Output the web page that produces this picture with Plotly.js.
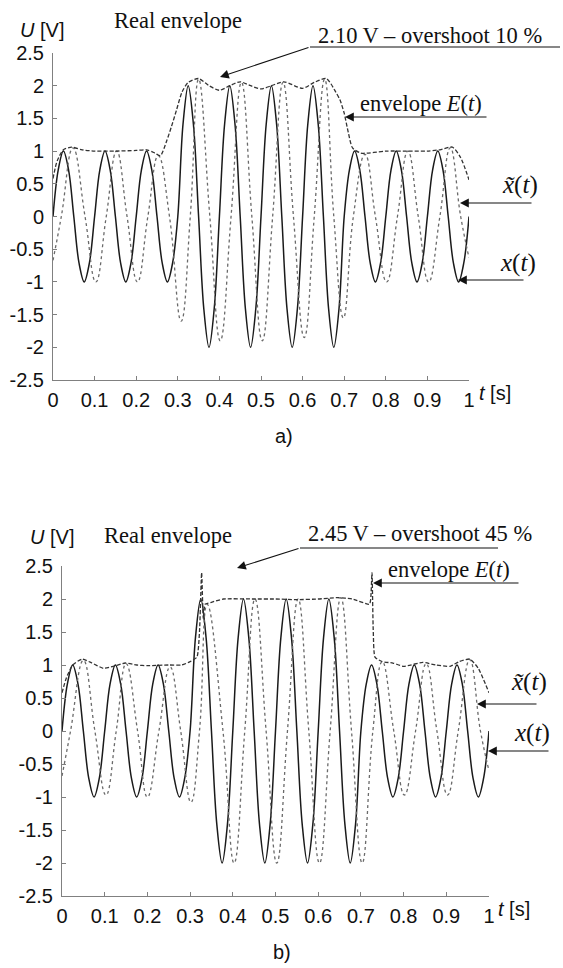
<!DOCTYPE html>
<html>
<head>
<meta charset="utf-8">
<script src="https://cdn.plot.ly/plotly-3.0.1.min.js"></script>
<style>html,body{margin:0;padding:0;background:#fff;}#chart{width:563px;height:968px;}</style>
</head>
<body>
<div id="chart"></div>
<script>
// ---- data ----
// x(t): sampled every 0.0125 s (x0 = 0, dx = 0.0125)
var xSignal = [0,0.71,1,0.71,0,-0.71,-1,-0.71, 0,0.71,1,0.71,0,-0.71,-1,-0.71, 0,0.71,1,0.71,0,-0.71,-1,-0.71,
  0,1.41,2,1.41,0,-1.41,-2,-1.41, 0,1.41,2,1.41,0,-1.41,-2,-1.41, 0,1.41,2,1.41,0,-1.41,-2,-1.41, 0,1.41,2,1.41,0,-1.41,-2,-1.41,
  0,0.71,1,0.71,0,-0.71,-1,-0.71, 0,0.71,1,0.71,0,-0.71,-1,-0.71, 0,0.71,1,0.71,0,-0.71,-1,-0.71, 0];

// (a) reconstructed x~(t)
var tTildeA = [0,0.02,0.048,0.077,0.103,0.128,0.153,0.178,0.203,0.228,0.253,0.28,0.308,0.33,0.35,0.377,0.402,0.428,0.453,0.478,0.503,0.528,0.553,0.578,0.604,0.628,0.653,0.675,0.698,0.722,0.75,0.775,0.802,0.828,0.853,0.878,0.903,0.93,0.955,0.98,1.0];
var vTildeA = [-0.67,0,1.05,0,-1.0,0,1.0,0,-1.0,0,0.93,0,-1.6,0,2.1,0,-1.9,0,2.05,0,-1.9,0,2.05,0,-1.85,0,2.1,0,-1.55,0,0.95,0,-1.0,0,1.0,0,-1.0,0,1.05,0,-0.63];
// (a) envelope E(t)
var tEnvA = [0,0.01,0.025,0.045,0.07,0.1,0.15,0.2,0.225,0.245,0.258,0.274,0.285,0.297,0.31,0.325,0.35,0.375,0.4,0.425,0.45,0.475,0.5,0.525,0.555,0.6,0.628,0.657,0.68,0.69,0.7,0.71,0.72,0.74,0.8,0.85,0.9,0.93,0.96,0.98,1.0];
var vEnvA = [0.58,0.85,1.02,1.06,1.02,1.0,1.0,1.01,1.02,0.97,0.93,1.17,1.38,1.63,1.9,2.05,2.11,2.0,1.93,2.0,2.06,2.0,1.95,2.0,2.06,1.96,2.05,2.11,1.9,1.78,1.58,1.28,1.05,0.97,1.0,1.0,1.0,1.02,1.06,0.9,0.56];

// (b) reconstructed x~(t)
var tTildeB = [0,0.02,0.05,0.077,0.103,0.127,0.15,0.177,0.2,0.227,0.253,0.278,0.302,0.322,0.34,0.377,0.403,0.428,0.452,0.478,0.503,0.528,0.553,0.578,0.603,0.628,0.653,0.678,0.703,0.728,0.75,0.777,0.802,0.828,0.853,0.878,0.903,0.928,0.955,0.98,1.0];
var vTildeB = [-0.68,0,1.07,0,-0.97,0,1.02,0,-1.0,0,0.97,0,-1.08,0,1.92,0,-2.0,0,2.0,0,-2.0,0,2.0,0,-2.0,0,2.02,0,-2.0,0,1.05,0,-0.97,0,1.02,0,-0.97,0,1.08,0,-0.6];
// (b) envelope E(t)
var tEnvB = [0,0.01,0.025,0.047,0.07,0.097,0.12,0.148,0.175,0.2,0.25,0.28,0.3,0.316,0.322,0.327,0.331,0.335,0.35,0.378,0.45,0.5,0.55,0.6,0.645,0.68,0.72,0.723,0.726,0.729,0.733,0.75,0.775,0.8,0.845,0.875,0.909,0.93,0.955,0.975,1.0];
var vEnvB = [0.58,0.8,1.0,1.09,1.03,0.95,0.98,1.03,1.0,0.99,1.0,1.0,1.05,1.12,1.5,2.4,1.7,1.92,1.95,2.0,2.0,2.0,1.99,2.0,2.02,2.0,1.92,2.0,2.4,1.5,1.12,1.05,1.03,0.98,1.04,1.0,0.98,1.05,1.09,0.95,0.58];

var xTickVals = [0,0.1,0.2,0.3,0.4,0.5,0.6,0.7,0.8,0.9,1];
var xTickText = ['0','0.1','0.2','0.3','0.4','0.5','0.6','0.7','0.8','0.9','1'];
var yTickVals = [-2.5,-2,-1.5,-1,-0.5,0,0.5,1,1.5,2,2.5];
var yTickText = ['-2.5','-2','-1.5','-1','-0.5','0','0.5','1','1.5','2','2.5'];

// ---- helpers ----
var W = 563, H = 968;
function px(x){return x / W;}
function py(y){return 1 - y / H;}

var solidLine = {color:'#1a1a1a', width:1.5};
var dotLine = {color:'#6a6a6a', width:1.3, dash:'dot', shape:'spline', smoothing:1.3};
var envLine = {color:'#333333', width:1.3, dash:'4px,2px', shape:'spline', smoothing:0.7};

var traces = [
  {x0:0, dx:0.0125, y:xSignal, type:'scatter', mode:'lines', line:Object.assign({shape:'spline', smoothing:1}, solidLine), xaxis:'x', yaxis:'y'},
  {x:tTildeA, y:vTildeA, type:'scatter', mode:'lines', line:dotLine, xaxis:'x', yaxis:'y'},
  {x:tEnvA, y:vEnvA, type:'scatter', mode:'lines', line:envLine, xaxis:'x', yaxis:'y'},
  {x0:0, dx:0.0125, y:xSignal, type:'scatter', mode:'lines', line:Object.assign({shape:'spline', smoothing:1}, solidLine), xaxis:'x2', yaxis:'y2'},
  {x:tTildeB, y:vTildeB, type:'scatter', mode:'lines', line:dotLine, xaxis:'x2', yaxis:'y2'},
  {x:tEnvB, y:vEnvB, type:'scatter', mode:'lines', line:Object.assign({}, envLine, {smoothing:0.5}), xaxis:'x2', yaxis:'y2'}
];

var tickFont = {family:'Liberation Sans, Arial, sans-serif', size:20, color:'#111'};
function xAx(d, anchor){
  return {domain:d, range:[0,1], anchor:anchor, tickvals:xTickVals, ticktext:xTickText, ticks:'inside', ticklen:4,
    tickcolor:'#808080', showline:true, linecolor:'#808080', linewidth:1, showgrid:false, zeroline:false,
    tickfont:tickFont, ticklabelstandoff:2};
}
function yAx(d, anchor){
  return {domain:d, range:[-2.5,2.5], anchor:anchor, tickvals:yTickVals, ticktext:yTickText, ticks:'inside', ticklen:4,
    tickcolor:'#808080', showline:true, linecolor:'#808080', linewidth:1, showgrid:false, zeroline:false,
    tickfont:tickFont, ticklabelstandoff:4};
}

var serif = {family:'Liberation Serif, Times New Roman, serif', size:22.5, color:'#111'};
var serifBig = {family:'Liberation Serif, Times New Roman, serif', size:25, color:'#111'};
var sans = {family:'Liberation Sans, Arial, sans-serif', size:20, color:'#111'};

function txt(x, y, text, font, xanchor){
  return {xref:'paper', yref:'paper', x:px(x), y:py(y), text:text, showarrow:false, font:font,
    xanchor:xanchor || 'left', yanchor:'middle'};
}
function arrow(tipX, tipY, tailX, tailY){
  return {xref:'paper', yref:'paper', x:px(tipX), y:py(tipY), ax:tailX - tipX, ay:tailY - tipY,
    axref:'pixel', ayref:'pixel', text:'', showarrow:true, arrowhead:2, arrowsize:1.6, arrowwidth:1.1,
    arrowcolor:'#111', standoff:0, startstandoff:0};
}
function hline(x0, x1, y){
  return {type:'line', xref:'paper', yref:'paper', x0:px(x0), x1:px(x1), y0:py(y), y1:py(y),
    line:{color:'#111', width:1.1}};
}

var annotations = [
  // (a)
  txt(18, 30, '<i>U</i> [V]', sans),
  txt(112, 20, 'Real envelope', serif),
  txt(316, 35, '2.10 V – overshoot 10 %', serif),
  arrow(220, 77, 310, 47),
  txt(358, 104, 'envelope <i>E</i>(<i>t</i>)', serif),
  arrow(345, 117, 488, 117),
  txt(500, 185, '<i>x̃</i>(<i>t</i>)', serifBig),
  arrow(460, 203, 533, 203),
  txt(498, 263, '<i>x</i>(<i>t</i>)', serifBig),
  arrow(458, 280, 525, 280),
  txt(477, 393, '<i>t</i> [s]', sans),
  txt(284, 436, 'a)', sans, 'center'),
  // (b)
  txt(28, 537, '<i>U</i> [V]', sans),
  txt(102, 535, 'Real envelope', serif),
  txt(306, 533, '2.45 V – overshoot 45 %', serif),
  arrow(237, 568, 300, 548),
  txt(386, 569, 'envelope <i>E</i>(<i>t</i>)', serif),
  arrow(373, 583, 520, 583),
  txt(509, 682, '<i>x̃</i>(<i>t</i>)', serifBig),
  arrow(477, 704, 538, 704),
  txt(512, 733, '<i>x</i>(<i>t</i>)', serifBig),
  arrow(488, 751, 550, 751),
  txt(496, 909, '<i>t</i> [s]', sans),
  txt(282, 952, 'b)', sans, 'center')
];

var shapes = [hline(310, 560, 47), hline(300, 498, 548)];

var layout = {
  width:W, height:H, margin:{l:0, r:0, t:0, b:0}, paper_bgcolor:'#fff', plot_bgcolor:'#fff', showlegend:false,
  xaxis: xAx([53/W, 469/W], 'y'),
  yaxis: yAx([1 - 380/H, 1 - 53/H], 'x'),
  xaxis2: xAx([62/W, 489/W], 'y2'),
  yaxis2: yAx([1 - 896/H, 1 - 566/H], 'x2'),
  annotations: annotations,
  shapes: shapes
};

Plotly.newPlot('chart', traces, layout, {staticPlot:true, displayModeBar:false});
</script>
</body>
</html>
